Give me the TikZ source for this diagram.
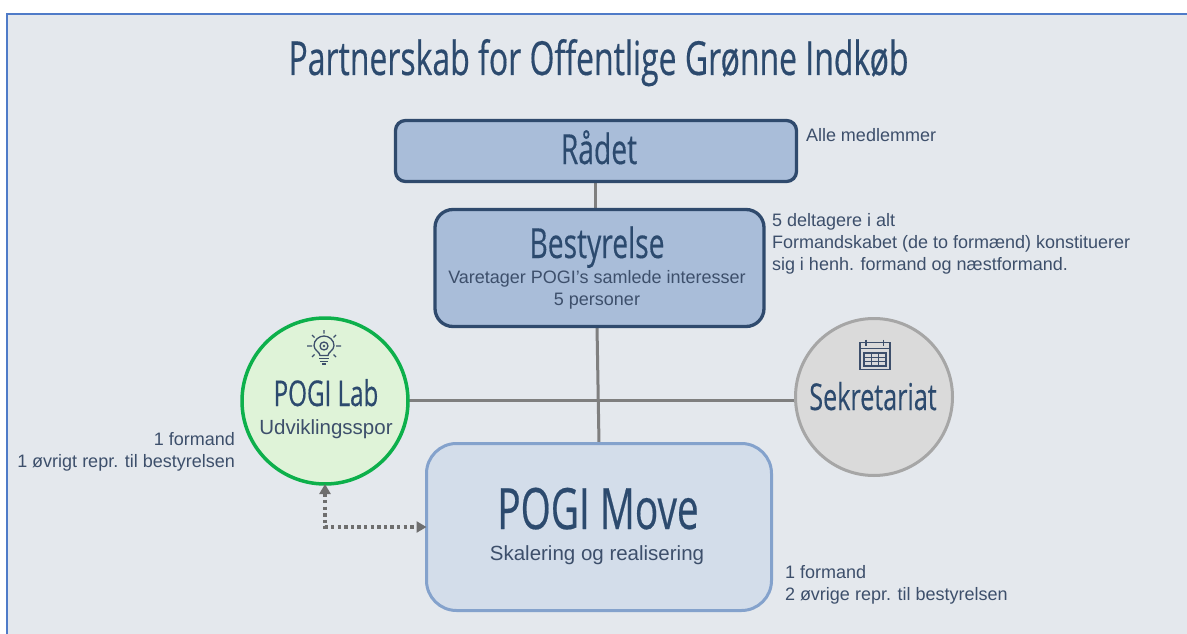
\documentclass[tikz,border=0pt]{standalone}
\usepackage{fontspec}
\setmainfont{Liberation Sans}
\newfontfamily\cond[FakeStretch=0.68,FakeBold=0.35]{Open Sans}
\usetikzlibrary{backgrounds,arrows.meta}
\definecolor{ink}{HTML}{2C4A6E}
\definecolor{subink}{HTML}{3D4F6B}
\definecolor{panel}{HTML}{E4E8ED}
\definecolor{frame}{HTML}{4F7BC8}
\definecolor{boxfill}{HTML}{A9BDD9}
\definecolor{boxline}{HTML}{2F4A6D}
\definecolor{movefill}{HTML}{D3DDEA}
\definecolor{moveline}{HTML}{84A2CC}
\definecolor{labfill}{HTML}{DFF3D8}
\definecolor{labline}{HTML}{0DB04B}
\definecolor{secfill}{HTML}{DADADA}
\definecolor{secline}{HTML}{A6A6A6}
\definecolor{conn}{HTML}{7F7F7F}
\definecolor{dotc}{HTML}{6E6E6E}
\tikzset{
  every node/.style={inner sep=0pt,outer sep=0pt},
  darkbox/.style={draw=boxline,fill=boxfill,line width=3.3pt,rounded corners=#1},
  headtext/.style={font=\cond,text=ink,anchor=base},
  subtext/.style={text=subink,align=center,anchor=base},
  notetext/.style={font=\fontsize{18}{22}\selectfont,text=subink,align=left,anchor=north west},
  link/.style={draw=conn,line width=3pt},
  icon/.style={draw=subink,line width=1.3pt},
}
\begin{document}
\begin{tikzpicture}[x=1pt,y=-1pt]
\useasboundingbox (0,0) rectangle (1187,634);
\node[darkbox=10pt,minimum width=401pt,minimum height=61pt] (radet) at (596,151) {};
\node[darkbox=18pt,minimum width=329pt,minimum height=117pt] (best) at (599.5,268) {};
\node[draw=moveline,fill=movefill,line width=3pt,rounded corners=30pt,minimum width=345pt,minimum height=167pt] (move) at (599,527) {};
\node[circle,draw=labline,fill=labfill,line width=3.5pt,minimum size=166pt] (lab) at (325,401) {};
\node[circle,draw=secline,fill=secfill,line width=3pt,minimum size=157pt] (sek) at (874,397) {};
\begin{scope}[on background layer]
  \fill[panel] (7,14) rectangle (1187,634);
  \draw[frame,line width=1.5pt] (1187,14) -- (7,14) -- (7,634);
  \draw[link] ([xshift=-1pt]radet.south) -- ([xshift=-1pt]radet.south |- best.north);
  \draw[link] ([xshift=-2.5pt]best.south) -- (move.north);
  \draw[link] ([yshift=0.5pt]lab.east) -- ([yshift=0.5pt]lab.east -| sek.west);
\end{scope}
\draw[dotc,line width=3.2pt,dash pattern=on 3.4pt off 3.2pt,{Triangle[length=10pt,width=11pt]}-{Triangle[length=10pt,width=11pt]}] (lab.south) |- (move.west);
\node[headtext] (title) at (598.5,75) {\fontsize{47}{52}\selectfont Partnerskab for Offentlige Grønne Indkøb};
\node[headtext] (radettxt) at (599,164) {\fontsize{41.5}{46}\selectfont Rådet};
\node[headtext] (besttxt) at (597,258) {\fontsize{41.5}{46}\selectfont Bestyrelse};
\node[subtext] (bestsub) at (597,283) {\fontsize{18}{22}\selectfont Varetager POGI’s samlede interesser};
\node[subtext] (bestsub2) at (597,305) {\fontsize{18}{22}\selectfont 5 personer};
\node[headtext] (movetxt) at (598,529) {\fontsize{57}{62}\selectfont POGI Move};
\node[subtext] (movesub) at (597,560) {\fontsize{20.5}{24}\selectfont Skalering og realisering};
\node[headtext] (labtxt) at (326,406) {\fontsize{35.5}{40}\selectfont POGI Lab};
\node[subtext] (labsub) at (326,434) {\fontsize{20.5}{24}\selectfont Udviklingsspor};
\node[headtext] (sektxt) at (873,410) {\fontsize{37}{42}\selectfont Sekretariat};
\node[notetext] (n1) at (806,128) {Alle medlemmer};
\node[notetext] (n2) at (772,213) {5 deltagere i alt\\Formandskabet (de to formænd) konstituerer\\sig i henh. formand og næstformand.};
\node[notetext,align=right,anchor=north east] (n3) at (235,432) {1 formand\\1 øvrigt repr. til bestyrelsen};
\node[notetext] (n4) at (785,565) {1 formand\\2 øvrige repr. til bestyrelsen};
% bulb icon
\begin{scope}[shift={(324,346)},icon]
  \draw (-4,9.5) .. controls (-4,6) and (-10,4.5) .. (-10,-0.5) .. controls (-10,-6) and (-5,-10) .. (0,-10) .. controls (5,-10) and (10,-6) .. (10,-0.5) .. controls (10,4.5) and (4,6) .. (4,9.5) -- cycle;
  \draw (0,0) circle (4);
  \fill[subink] (0,0) circle (1.3);
  \draw (-5,12.5) -- (5,12.5) (-4,15.5) -- (4,15.5) (-2,18) -- (2,18);
  \draw (0,-16) -- (0,-12.5) (-12,-11) -- (-9.5,-8.5) (12,-11) -- (9.5,-8.5) (-17,0) -- (-12,0) (17,0) -- (12,0) (-12,11) -- (-9.5,8.5) (12,11) -- (9.5,8.5);
\end{scope}
% calendar icon
\begin{scope}[shift={(875,355.5)},icon]
  \draw (-15,-13) rectangle (15,14);
  \draw (-15,-7) -- (15,-7);
  \draw (-9,-16) -- (-9,-10) (8.5,-16) -- (8.5,-10);
  \draw (-11,-2.5) rectangle (11,10.5);
  \draw (-11,1.8) -- (11,1.8) (-11,6.1) -- (11,6.1) (-3.7,-2.5) -- (-3.7,10.5) (3.7,-2.5) -- (3.7,10.5);
\end{scope}
\end{tikzpicture}
\end{document}
